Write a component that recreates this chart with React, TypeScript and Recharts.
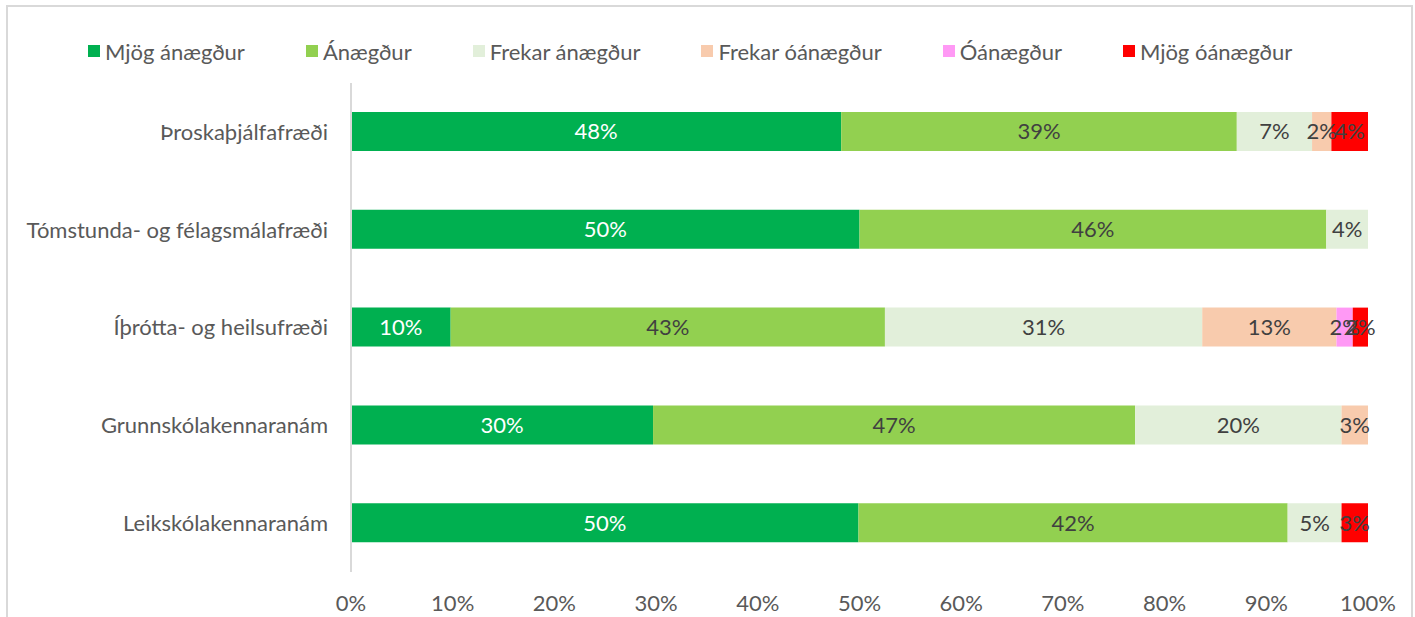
import { BarChart, Bar, XAxis, YAxis, Legend, LabelList } from "recharts";

const categories = [
  "Þroskaþjálfafræði",
  "Tómstunda- og félagsmálafræði",
  "Íþrótta- og heilsufræði",
  "Grunnskólakennaranám",
  "Leikskólakennaranám",
];

const seriesNames = [
  "Mjög ánægður",
  "Ánægður",
  "Frekar ánægður",
  "Frekar óánægður",
  "Óánægður",
  "Mjög óánægður",
];

// share of answers per category (%), order follows categories
const mjogAnaegdur = [48.2, 50.0, 9.8, 29.7, 49.9];
const anaegdur = [38.9, 45.9, 42.7, 47.4, 42.2];
const frekarAnaegdur = [7.4, 4.1, 31.2, 20.3, 5.3];
const frekarOanaegdur = [1.9, 0, 13.2, 2.6, 0];
const oanaegdur = [0, 0, 1.6, 0, 0];
const mjogOanaegdur = [3.6, 0, 1.5, 0, 2.6];

const xTicks = [0, 10, 20, 30, 40, 50, 60, 70, 80, 90, 100];

const COLORS = ["#00b050", "#92d050", "#e2efda", "#f8cbad", "#ff99f5", "#ff0000"];
const LABEL_COLORS = ["#ffffff", "#404040", "#404040", "#404040", "#404040", "#404040"];

const allSeries = [mjogAnaegdur, anaegdur, frekarAnaegdur, frekarOanaegdur, oanaegdur, mjogOanaegdur];

const data = categories.map((name, i) => {
  const row: Record<string, string | number> = { name };
  seriesNames.forEach((s, j) => {
    row[s] = allSeries[j][i];
  });
  return row;
});

const FONT = "Lato, 'Open Sans', sans-serif";

const renderLegend = () => (
  <div style={{ height: 44, display: "flex", alignItems: "flex-start", paddingLeft: 80, fontFamily: FONT }}>
    {seriesNames.map((s, i) => (
      <div key={s} style={{ display: "flex", alignItems: "center", marginRight: 61, height: 24 }}>
        <span style={{ width: 12, height: 12, background: COLORS[i], display: "inline-block", marginRight: 5 }} />
        <span style={{ fontSize: 22, color: "#595959" }}>{s}</span>
      </div>
    ))}
  </div>
);

const fmt = (v: unknown) => {
  const n = Number(v);
  return n > 0 ? `${Math.round(n)}%` : "";
};

export default function App() {
  return (
    <div
      style={{
        position: "absolute",
        left: 6,
        top: 5,
        width: 1403,
        height: 610,
        borderTop: "2px solid #d9d9d9",
        borderLeft: "2px solid #d9d9d9",
        borderRight: "2px solid #d9d9d9",
        background: "#fff",
      }}
    >
      <BarChart
        width={1403}
        height={610}
        data={data}
        layout="vertical"
        margin={{ top: 32, right: 43, left: 0, bottom: 15 }}
        barSize={39}
      >
        <Legend verticalAlign="top" align="left" content={renderLegend} />
        <XAxis
          type="number"
          domain={[0, 100]}
          ticks={xTicks}
          tickFormatter={(v) => `${v}%`}
          axisLine={false}
          tickLine={false}
          tickSize={0}
          tickMargin={23}
          height={30}
          interval={0}
          tick={{ fill: "#595959", fontSize: 22, fontFamily: FONT }}
        />
        <YAxis
          type="category"
          dataKey="name"
          width={343}
          axisLine={{ stroke: "#d9d9d9", strokeWidth: 2 }}
          tickLine={false}
          tickSize={0}
          tickMargin={23}
          tick={{ fill: "#595959", fontSize: 22, fontFamily: FONT }}
        />
        {seriesNames.map((s, i) => (
          <Bar key={s} dataKey={s} stackId="a" fill={COLORS[i]} isAnimationActive={false}>
            <LabelList
              dataKey={s}
              position="center"
              formatter={fmt}
              fill={LABEL_COLORS[i]}
              style={{ fontSize: 22, fontFamily: FONT }}
            />
          </Bar>
        ))}
      </BarChart>
    </div>
  );
}
